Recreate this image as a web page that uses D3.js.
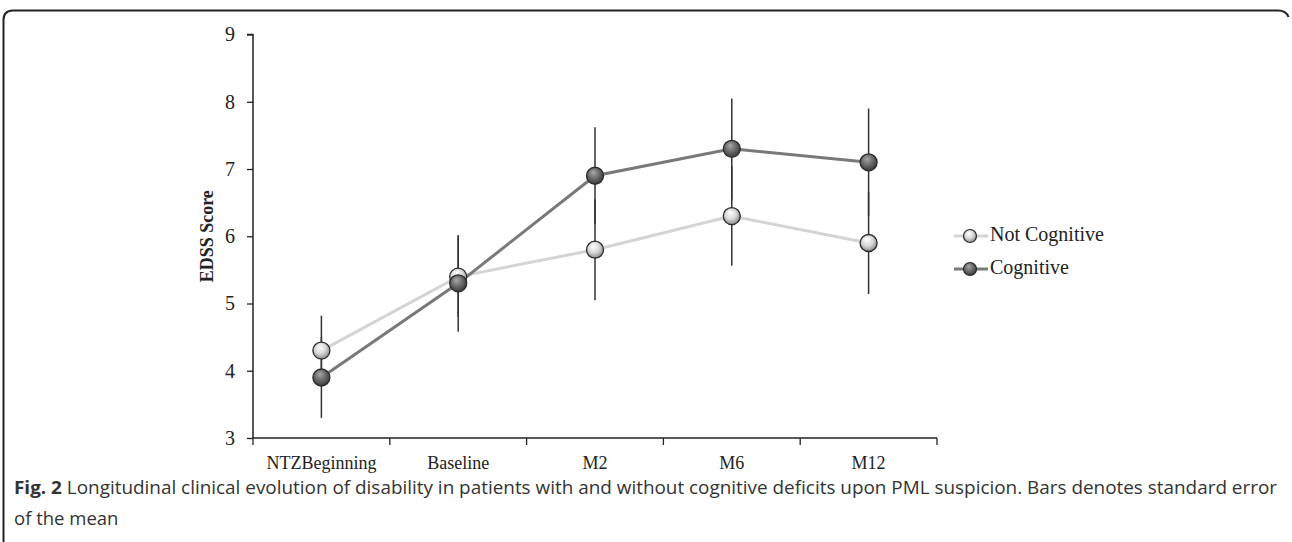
<!DOCTYPE html>
<html>
<head>
<meta charset="utf-8">
<script src="https://cdn.jsdelivr.net/npm/d3@7/dist/d3.min.js"></script>
<style>
  body { margin: 0; background: #fff; }
  svg { display: block; }
</style>
</head>
<body>
<svg id="chart" width="1292" height="542"></svg>
<script>
// ---- data ----
const categories = ["NTZBeginning", "Baseline", "M2", "M6", "M12"];
const notCognitive = [4.3, 5.4, 5.8, 6.3, 5.9];
const notCognitiveSE = [0.52, 0.6, 0.75, 0.74, 0.76];
const cognitive = [3.9, 5.3, 6.9, 7.3, 7.1];
const cognitiveSE = [0.6, 0.72, 0.72, 0.75, 0.8];
const yTicks = [3, 4, 5, 6, 7, 8, 9];
const seriesNames = ["Not Cognitive", "Cognitive"];
const captionBold = "Fig. 2";
const captionLine1 = " Longitudinal clinical evolution of disability in patients with and without cognitive deficits upon PML suspicion. Bars denotes standard error";
const captionLine2 = "of the mean";

const svg = d3.select("#chart");

// frame
svg.append("path")
  .attr("d", "M3.5,542 L3.5,20 Q3.5,10.5 13,10.5 L1278,10.5 Q1286,10.5 1288.5,17")
  .attr("fill", "none").attr("stroke", "#222").attr("stroke-width", 2);

const x = d3.scaleBand().domain(categories).range([253, 937]).padding(0);
const y = d3.scaleLinear().domain([3, 9]).range([438, 34.5]);
const serif = "'Liberation Serif', 'Times New Roman', serif";

// gradients
const defs = svg.append("defs");
function grad(id, c0, c1, c2) {
  const g = defs.append("radialGradient").attr("id", id)
    .attr("cx", "45%").attr("cy", "40%").attr("r", "60%").attr("fx", "40%").attr("fy", "30%");
  g.append("stop").attr("offset", "0%").attr("stop-color", c0);
  g.append("stop").attr("offset", "55%").attr("stop-color", c1);
  g.append("stop").attr("offset", "100%").attr("stop-color", c2);
}
grad("gLight", "#ffffff", "#d8d8d8", "#8a8a8a");
grad("gDark", "#a8a8a8", "#6a6a6a", "#3a3a3a");

// axes
const yAxis = svg.append("g").attr("transform", "translate(253,0)")
  .call(d3.axisLeft(y).tickValues(yTicks).tickSize(6).tickPadding(12).tickFormat(d3.format("d")));
yAxis.select(".domain").attr("stroke", "#222").attr("stroke-width", 1.5).attr("d", "M-6,34.5H0V438");
yAxis.selectAll(".tick line").attr("stroke", "#222").attr("stroke-width", 1.3);
yAxis.selectAll(".tick text").attr("font-family", serif).attr("font-size", 20).attr("fill", "#222");

const xAxis = svg.append("g").attr("transform", "translate(0,438)")
  .call(d3.axisBottom(x).tickSize(0).tickPadding(18));
xAxis.select(".domain").attr("stroke", "#222").attr("stroke-width", 1.5).attr("d", "M253,0H937");
xAxis.selectAll(".tick text").attr("font-family", serif).attr("font-size", 18).attr("fill", "#222");
// category boundary ticks
const bounds = categories.map(c => x(c)).concat([x(categories[categories.length - 1]) + x.bandwidth()]);
svg.append("g").selectAll("line").data(bounds).join("line")
  .attr("x1", d => d).attr("x2", d => d).attr("y1", 438).attr("y2", 445)
  .attr("stroke", "#222").attr("stroke-width", 1.3);

// y label
svg.append("text")
  .attr("transform", `translate(209,${y(6)}) rotate(-90)`)
  .attr("text-anchor", "middle").attr("dominant-baseline", "middle")
  .attr("font-family", serif).attr("font-weight", "bold").attr("font-size", 18).attr("fill", "#222")
  .text("EDSS Score");

const cx = c => x(c) + x.bandwidth() / 2;

// error bars
function errBars(vals, se) {
  svg.append("g").selectAll("line").data(categories).join("line")
    .attr("x1", (c) => cx(c)).attr("x2", (c) => cx(c))
    .attr("y1", (c, i) => y(vals[i] - se[i])).attr("y2", (c, i) => y(vals[i] + se[i]))
    .attr("stroke", "#333").attr("stroke-width", 1.5);
}
errBars(notCognitive, notCognitiveSE);
errBars(cognitive, cognitiveSE);

const line = d3.line().x((d, i) => cx(categories[i])).y(d => y(d));
svg.append("path").datum(notCognitive).attr("d", line)
  .attr("fill", "none").attr("stroke", "#d4d4d4").attr("stroke-width", 3);
svg.append("path").datum(cognitive).attr("d", line)
  .attr("fill", "none").attr("stroke", "#797979").attr("stroke-width", 3);

function markers(vals, fill) {
  svg.append("g").selectAll("circle").data(vals).join("circle")
    .attr("cx", (d, i) => cx(categories[i])).attr("cy", d => y(d)).attr("r", 8.5)
    .attr("fill", fill).attr("stroke", "#2a2a2a").attr("stroke-width", 1.3);
}
markers(notCognitive, "url(#gLight)");
markers(cognitive, "url(#gDark)");

// legend
const legend = svg.append("g");
const legY = [236, 269];
const legColors = ["#d4d4d4", "#797979"];
const legFills = ["url(#gLight)", "url(#gDark)"];
seriesNames.forEach((name, i) => {
  legend.append("line").attr("x1", 954).attr("x2", 988).attr("y1", legY[i]).attr("y2", legY[i])
    .attr("stroke", legColors[i]).attr("stroke-width", 3);
  legend.append("circle").attr("cx", 970).attr("cy", legY[i]).attr("r", 6.5)
    .attr("fill", legFills[i]).attr("stroke", "#2a2a2a").attr("stroke-width", 1.2);
  legend.append("text").attr("x", 990).attr("y", legY[i]).attr("dominant-baseline", "middle")
    .attr("font-family", serif).attr("font-size", 20).attr("fill", "#222").text(name);
});

// caption
const sans = "'Open Sans', 'Noto Sans', sans-serif";
const cap = svg.append("text").attr("x", 14).attr("y", 494)
  .attr("font-family", sans).attr("font-size", 18.5).attr("fill", "#333")
  .attr("textLength", 1263).attr("lengthAdjust", "spacingAndGlyphs");
cap.append("tspan").attr("font-weight", "bold").text(captionBold);
cap.append("tspan").text(captionLine1);
svg.append("text").attr("x", 14).attr("y", 525)
  .attr("font-family", sans).attr("font-size", 18.5).attr("fill", "#333").text(captionLine2);
</script>
</body>
</html>
